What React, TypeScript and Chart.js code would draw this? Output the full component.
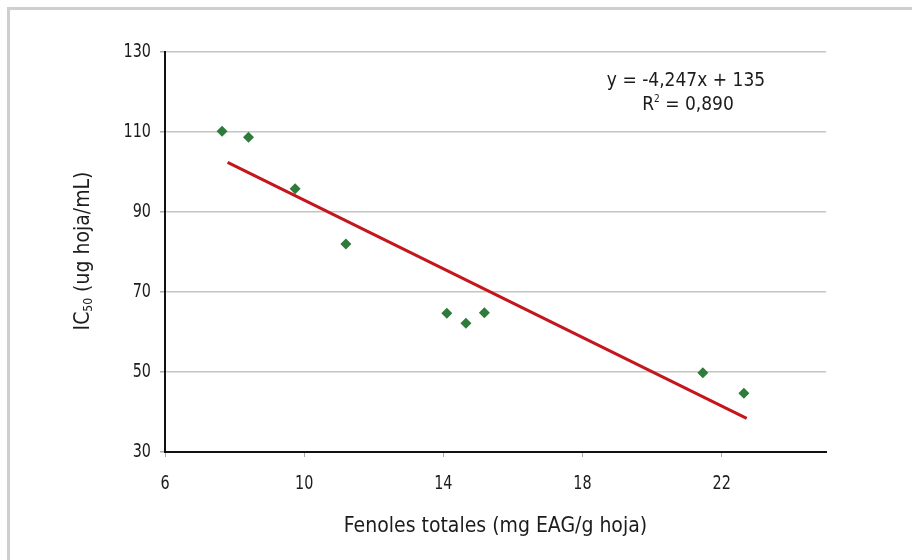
import { useEffect, useRef } from "react";
import { Chart, registerables } from "chart.js";
Chart.register(...registerables);

// Data
const fenoles = [7.64, 8.4, 9.74, 11.2, 14.1, 14.65, 15.18, 21.46, 22.64];
const ic50 = [110.2, 108.7, 95.8, 82.0, 64.7, 62.2, 64.8, 49.8, 44.7];
const trendX = [7.8, 22.72];
const trendY = [102.4, 38.4];
const xTicks = [6, 10, 14, 18, 22];
const yTicks = [30, 50, 70, 90, 110, 130];
const equationText = "y = -4,247x + 135";
const r2Label = "R";
const r2Sup = "2";
const r2Value = " = 0,890";
const xTitle = "Fenoles totales (mg EAG/g hoja)";
const yTitleMain = "IC";
const yTitleSub = "50";
const yTitleRest = " (ug hoja/mL)";

const FONT = '"DejaVu Sans Condensed", "DejaVu Sans", sans-serif';
const TEXT = "#1c1c1c";

function narrowText(ctx: any, text: string, x: number, y: number, align: string, k: number) {
  ctx.save();
  ctx.translate(x, y);
  ctx.scale(k, 1);
  ctx.textAlign = align;
  ctx.fillText(text, 0, 0);
  ctx.restore();
}

const textPlugin = {
  id: "texts",
  beforeDraw(chart: any) {
    const ctx = chart.ctx;
    ctx.save();
    ctx.fillStyle = "#ffffff";
    ctx.fillRect(0, 0, chart.width, chart.height);
    ctx.strokeStyle = "#cfcfcf";
    ctx.lineWidth = 3;
    ctx.beginPath();
    ctx.moveTo(8.5, chart.height);
    ctx.lineTo(8.5, 8.5);
    ctx.lineTo(chart.width, 8.5);
    ctx.stroke();
    ctx.restore();
  },
  afterDraw(chart: any) {
    const ctx = chart.ctx;
    const area = chart.chartArea;
    const xs = chart.scales.x;
    const ys = chart.scales.y;
    ctx.save();
    ctx.fillStyle = TEXT;

    // tick labels (tall, narrow)
    ctx.font = `20px ${FONT}`;
    ctx.textBaseline = "middle";
    xTicks.forEach((v) => {
      narrowText(ctx, String(v), xs.getPixelForValue(v), 484, "center", 0.8);
    });
    yTicks.forEach((v) => {
      narrowText(ctx, String(v), 151, ys.getPixelForValue(v), "right", 0.8);
    });

    // x title
    ctx.font = `21px ${FONT}`;
    ctx.textAlign = "center";
    ctx.textBaseline = "middle";
    ctx.fillText(xTitle, (area.left + area.right) / 2, 527);

    // y title rotated with subscript
    ctx.save();
    ctx.translate(82, 251);
    ctx.rotate(-Math.PI / 2);
    const big = `21px ${FONT}`;
    const small = `12px ${FONT}`;
    ctx.font = big;
    const w1 = ctx.measureText(yTitleMain).width;
    const w3 = ctx.measureText(yTitleRest).width;
    ctx.font = small;
    const w2 = ctx.measureText(yTitleSub).width;
    const total = w1 + w2 + w3;
    let x = -total / 2;
    ctx.textAlign = "left";
    ctx.textBaseline = "alphabetic";
    ctx.font = big;
    ctx.fillText(yTitleMain, x, 7);
    x += w1;
    ctx.font = small;
    ctx.fillText(yTitleSub, x, 10);
    x += w2;
    ctx.font = big;
    ctx.fillText(yTitleRest, x, 7);
    ctx.restore();

    // equation
    ctx.font = `19px ${FONT}`;
    ctx.textAlign = "center";
    ctx.textBaseline = "middle";
    ctx.fillText(equationText, 686, 81);
    const wa = ctx.measureText(r2Label).width;
    const wc = ctx.measureText(r2Value).width;
    ctx.font = `10px ${FONT}`;
    const wb = ctx.measureText(r2Sup).width;
    let sx = 688 - (wa + wb + wc) / 2;
    ctx.textAlign = "left";
    ctx.font = `19px ${FONT}`;
    ctx.fillText(r2Label, sx, 105);
    sx += wa;
    ctx.font = `10px ${FONT}`;
    ctx.fillText(r2Sup, sx, 99);
    sx += wb;
    ctx.font = `19px ${FONT}`;
    ctx.fillText(r2Value, sx, 105);
    ctx.restore();
  },
};

export default function App() {
  const ref = useRef<HTMLCanvasElement | null>(null);
  useEffect(() => {
    if (!ref.current) return;
    const chart = new Chart(ref.current, {
      type: "scatter",
      data: {
        datasets: [
          {
            type: "line",
            label: "Tendencia",
            data: trendX.map((x, i) => ({ x, y: trendY[i] })),
            borderColor: "#c4161c",
            borderWidth: 3,
            pointRadius: 0,
            fill: false,
            order: 2,
          } as any,
          {
            label: "IC50",
            data: fenoles.map((x, i) => ({ x, y: ic50[i] })),
            pointStyle: "rectRot",
            pointRadius: 5.5,
            backgroundColor: "#2e7b3c",
            borderColor: "#2e7b3c",
            borderWidth: 0,
            order: 1,
          },
        ],
      },
      options: {
        responsive: false,
        animation: false,
        events: [],
        layout: { padding: { left: 0, right: 86, top: 52, bottom: 0 } },
        plugins: {
          legend: { display: false },
          tooltip: { enabled: false },
        },
        scales: {
          x: {
            type: "linear",
            min: 6,
            max: 25,
            afterBuildTicks: (s: any) => {
              s.ticks = xTicks.map((v) => ({ value: v }));
            },
            afterFit: (s: any) => {
              s.height = 108;
            },
            grid: {
              drawOnChartArea: false,
              drawTicks: true,
              tickLength: 5,
              tickColor: "#aaaaaa",
            },
            border: { color: "#111111", width: 2 },
            ticks: { display: false },
          },
          y: {
            type: "linear",
            min: 30,
            max: 130,
            afterBuildTicks: (s: any) => {
              s.ticks = yTicks.map((v) => ({ value: v }));
            },
            afterFit: (s: any) => {
              s.width = 165;
            },
            grid: {
              color: "#c4c4c4",
              lineWidth: 1.5,
              tickLength: 5,
              tickColor: "#aaaaaa",
            },
            border: { color: "#111111", width: 2 },
            ticks: { display: false },
          },
        },
      },
      plugins: [textPlugin],
    });
    return () => chart.destroy();
  }, []);
  return (
    <div style={{ position: "fixed", left: 0, top: 0, width: 912, height: 560, background: "#fff" }}>
      <canvas ref={ref} width={912} height={560} style={{ display: "block" }} />
    </div>
  );
}
